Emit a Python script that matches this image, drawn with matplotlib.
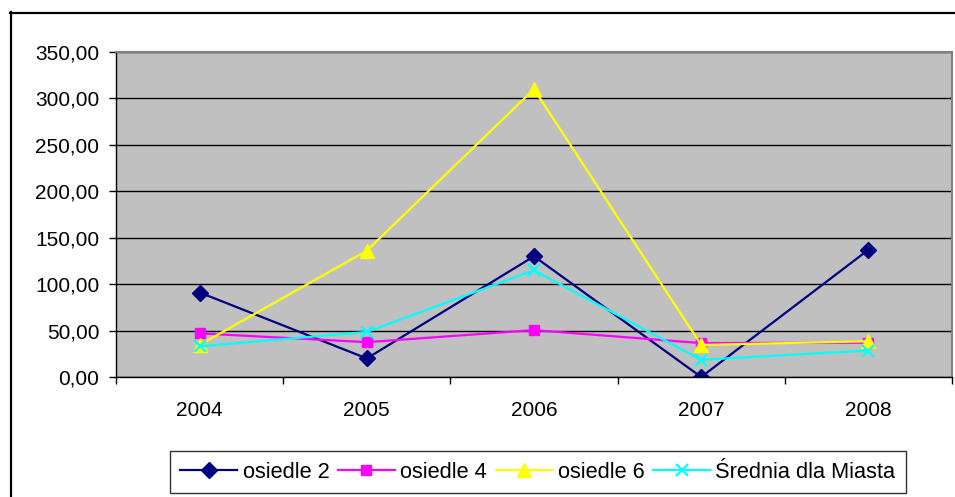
import matplotlib.pyplot as plt
from matplotlib.lines import Line2D
import numpy as np

plt.rcParams['font.family'] = ['Liberation Sans', 'DejaVu Sans']

lata = ['2004', '2005', '2006', '2007', '2008']
osiedle_2 = [91.0, 20.0, 130.0, 0.0, 137.0]
osiedle_4 = [47.0, 37.5, 50.5, 36.5, 37.0]
osiedle_6 = [34.5, 136.0, 310.0, 34.5, 38.5]
srednia = [33.0, 48.5, 115.0, 18.5, 28.5]

W, H = 955, 497
fig = plt.figure(figsize=(W / 100, H / 100), dpi=100)

# ramka wykresu (obcięta z prawej i z dołu)
fig.add_artist(Line2D([10 / W, 1.0], [1 - 12.5 / H] * 2, color='black', lw=1.6,
                      transform=fig.transFigure))
fig.add_artist(Line2D([10.5 / W] * 2, [0.0, 1 - 12 / H], color='black', lw=1.6,
                      transform=fig.transFigure))

ax = fig.add_axes([116 / W, 1 - 377 / H, (952 - 116) / W, (377 - 52) / H])
ax.set_facecolor('#C0C0C0')

x = np.arange(len(lata))
ax.plot(x, osiedle_2, color='#000080', lw=1.6, marker='D', ms=8, label='osiedle 2')
ax.plot(x, osiedle_4, color='#FF00FF', lw=1.6, marker='s', ms=7.5, label='osiedle 4')
ax.plot(x, osiedle_6, color='#FFFF00', lw=1.6, marker='^', ms=9.5, label='osiedle 6')
ax.plot(x, srednia, color='#00FFFF', lw=1.6, marker='x', ms=9, mew=1.6,
        label='Średnia dla Miasta')

ax.set_xlim(-0.5, len(lata) - 0.5)
ax.set_ylim(0, 350)
yt = np.arange(0, 351, 50)
ax.set_yticks(yt)
ax.set_yticklabels([f'{v:.2f}'.replace('.', ',') for v in yt], fontsize=15)
ax.yaxis.grid(True, color='black', lw=1)
ax.set_axisbelow(True)

ax.set_xticks(x)
ax.set_xticklabels(lata, fontsize=15)
ax.set_xticks(np.arange(-0.5, len(lata)), minor=True)
ax.tick_params(axis='x', which='major', length=0, pad=17)
ax.tick_params(axis='x', which='minor', length=5, width=1, direction='out')
ax.tick_params(axis='y', length=5, width=1, pad=7)

for s in ['top', 'right']:
    ax.spines[s].set_color('#808080')
    ax.spines[s].set_linewidth(1.5)
ax.spines['left'].set_linewidth(1)
ax.spines['bottom'].set_linewidth(1)

leg = fig.legend(loc='center', bbox_to_anchor=(538 / W, 1 - 472 / H), ncol=4,
                 fontsize=15.7, frameon=True, fancybox=False, handlelength=2.6,
                 handletextpad=0.25, columnspacing=0.4, borderpad=0.5,
                 borderaxespad=0)
leg.get_frame().set_edgecolor('black')
leg.get_frame().set_linewidth(1)

fig.savefig('out.png', dpi=100)
